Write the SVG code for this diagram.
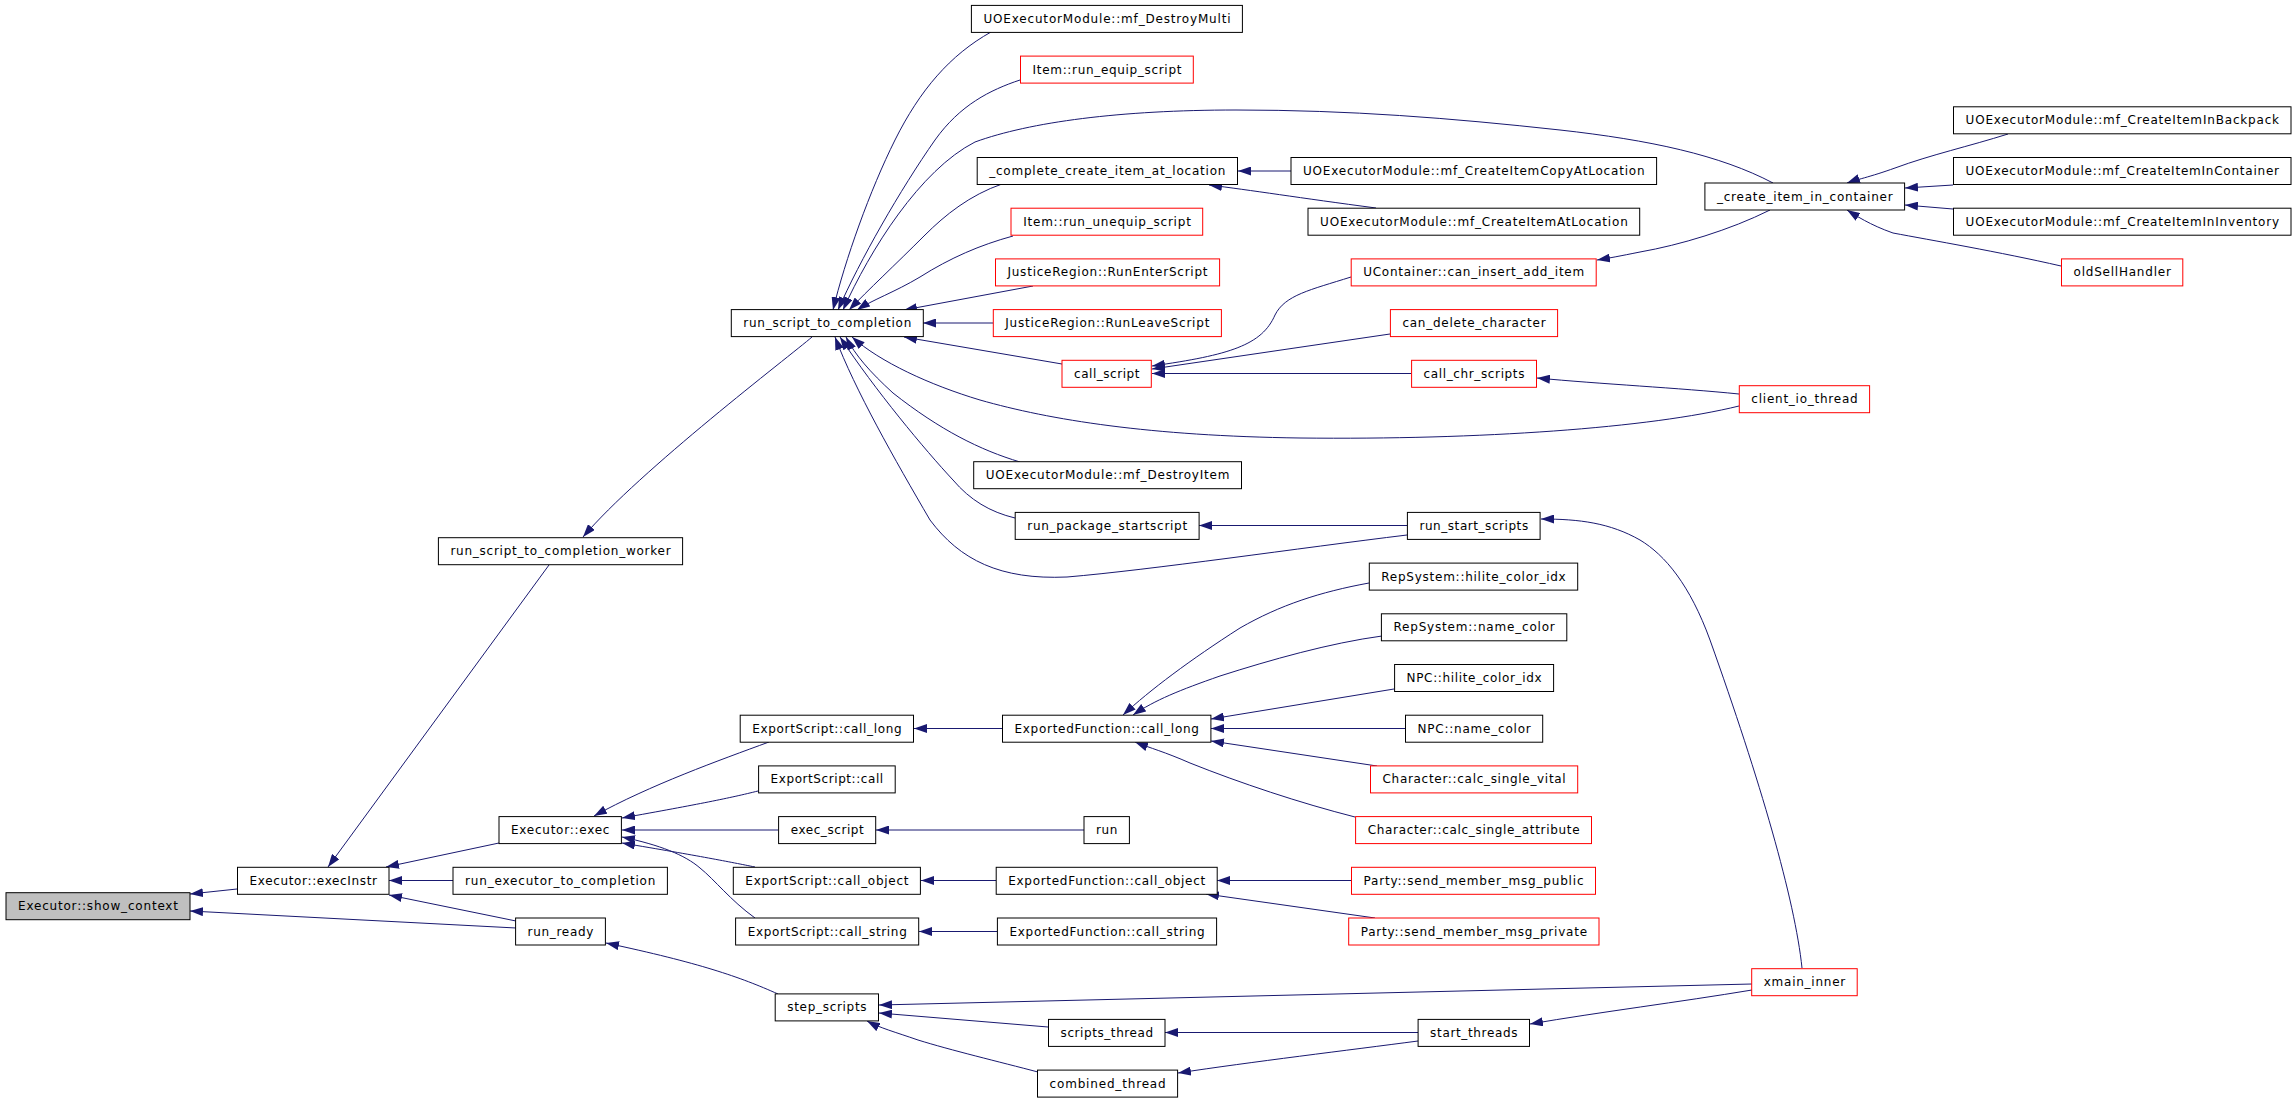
<svg xmlns="http://www.w3.org/2000/svg" width="2296" height="1101" viewBox="0 0 2296 1101">
<style>
.n rect{fill:#fff;stroke:#000;stroke-width:1}
.r rect{stroke:#f00}
.g rect{fill:#bfbfbf}
text{font-family:"DejaVu Sans","Liberation Sans",sans-serif;font-size:12px;text-anchor:middle;fill:#000}
.e path{fill:none;stroke:#191970;stroke-width:1;marker-end:url(#a)}
</style>
<defs>
<marker id="a" viewBox="0 0 13 9" refX="13" refY="4.5" markerWidth="13" markerHeight="9" markerUnits="userSpaceOnUse" orient="auto"><path d="M0,0 L13,4.5 L0,9 z" fill="#191970"/></marker>
</defs>
<rect width="2296" height="1101" fill="#fff"/>
<g id="connectors" class="e">
<path d="M237,889 L190,894"/>
<path d="M516,928 L190,911"/>
<path d="M549,565 L328,867"/>
<path d="M499,843 L386,867"/>
<path d="M453,880.5 L389,880.5"/>
<path d="M516,921 L389,895"/>
<path d="M812,337 C790,356 640,470 583,537"/>
<path d="M769,742 C720,760 650,785 594,816"/>
<path d="M758,791 C730,798 700,804 622,818"/>
<path d="M778,830 L622,830"/>
<path d="M755,867 C730,862 700,856 622,843"/>
<path d="M755,918 C730,900 715,880 700,868 C685,855 660,845 622,837"/>
<path d="M1002,728.5 L914,728.5"/>
<path d="M1084,830 L876,830"/>
<path d="M996,880.5 L921,880.5"/>
<path d="M997,931.5 L919,931.5"/>
<path d="M1369,583 C1320,592 1280,605 1240,628 C1190,660 1150,690 1123,715"/>
<path d="M1382,636 C1330,643 1270,660 1220,676 C1180,690 1155,700 1133,715"/>
<path d="M1394,689 L1211,719"/>
<path d="M1405,728.5 L1211,728.5"/>
<path d="M1377,766 L1211,741"/>
<path d="M1355,817 C1300,803 1240,783 1190,763 C1165,752 1150,748 1135,742"/>
<path d="M1351,880.5 L1217,880.5"/>
<path d="M1375,918 L1206,894"/>
<path d="M778,994 C740,977 700,963 606,943"/>
<path d="M1048,1027 L879,1013"/>
<path d="M1038,1072 C1000,1062 950,1050 918,1040 C895,1032 880,1028 867,1021"/>
<path d="M1752,984 L879,1005"/>
<path d="M1418,1032.5 L1165,1032.5"/>
<path d="M1418,1041 C1350,1050 1250,1062 1178,1073"/>
<path d="M1752,990 C1680,1002 1600,1012 1530,1024"/>
<path d="M1802,968 C1795,900 1760,780 1710,640 C1690,585 1665,555 1640,540 C1610,523 1580,519 1541,519"/>
<path d="M1407,525.5 L1199,525.5"/>
<path d="M1407,535 C1300,548 1150,570 1067,577 C1000,580 960,560 930,520 C895,460 855,390 835,337"/>
<path d="M1015,518 C990,512 970,500 953,480 C925,450 875,390 840,337"/>
<path d="M1020,462 C980,450 940,430 893,393 C870,372 855,355 846,337"/>
<path d="M1739,406 C1650,428 1480,440 1300,438 C1150,436 1050,420 980,400 C930,385 880,362 852,337"/>
<path d="M1062,364 L904,337"/>
<path d="M993,323 L923,323"/>
<path d="M1033,286 L904,310"/>
<path d="M1013,236 C980,245 950,258 920,277 C895,292 872,300 857,310"/>
<path d="M1002,184 C970,195 945,215 925,235 C895,265 868,290 849,310"/>
<path d="M1773,183 C1720,155 1650,140 1560,130 C1450,118 1350,110 1236,110 C1120,110 1030,122 975,142 C920,170 870,250 843,310"/>
<path d="M1020,80 C990,90 960,105 935,140 C900,190 860,260 838,310"/>
<path d="M991,32 C950,55 920,90 895,140 C870,190 845,260 833,310"/>
<path d="M1291,171 L1238,171"/>
<path d="M1376,208 C1300,198 1250,190 1209,185"/>
<path d="M1351,277 C1310,290 1285,295 1275,315 C1262,345 1230,355 1152,366"/>
<path d="M1390,334 L1152,369"/>
<path d="M1411,373.5 L1152,373.5"/>
<path d="M1739,394 C1680,388 1600,384 1537,378"/>
<path d="M1770,210 C1730,230 1680,245 1640,252 C1620,256 1610,258 1597,260"/>
<path d="M2008,134 C1970,146 1930,155 1895,168 C1870,177 1855,180 1847,183"/>
<path d="M1953,185 L1905,188"/>
<path d="M1953,209 L1905,205"/>
<path d="M2061,266 C2000,252 1930,240 1893,233 C1870,225 1855,215 1847,210"/>
</g>
<g id="n_show_context" class="n g"><rect x="6" y="892.7" width="184" height="27"/><text x="98" y="910.2" textLength="160" lengthAdjust="spacing">Executor::show_context</text></g>
<g id="n_execInstr" class="n"><rect x="237.5" y="867.3" width="151.5" height="27"/><text x="313.3" y="884.8" textLength="127.5" lengthAdjust="spacing">Executor::execInstr</text></g>
<g id="n_worker" class="n"><rect x="438.4" y="537.7" width="244.2" height="27"/><text x="560.5" y="555.2" textLength="220.2" lengthAdjust="spacing">run_script_to_completion_worker</text></g>
<g id="n_exec" class="n"><rect x="499" y="816.6" width="122.4" height="27"/><text x="560.2" y="834.1" textLength="98.4" lengthAdjust="spacing">Executor::exec</text></g>
<g id="n_run_executor" class="n"><rect x="453" y="867.3" width="214.4" height="27"/><text x="560.2" y="884.8" textLength="190.4" lengthAdjust="spacing">run_executor_to_completion</text></g>
<g id="n_run_ready" class="n"><rect x="515.6" y="918" width="89.8" height="27"/><text x="560.5" y="935.5" textLength="65.8" lengthAdjust="spacing">run_ready</text></g>
<g id="n_rstc" class="n"><rect x="731.3" y="309.6" width="192" height="27"/><text x="827.3" y="327.1" textLength="168" lengthAdjust="spacing">run_script_to_completion</text></g>
<g id="n_destroymulti" class="n"><rect x="971.4" y="5.4" width="271" height="27"/><text x="1107" y="22.9" textLength="247" lengthAdjust="spacing">UOExecutorModule::mf_DestroyMulti</text></g>
<g id="n_run_equip" class="n r"><rect x="1020.5" y="56.1" width="172.8" height="27"/><text x="1107" y="73.6" textLength="148.8" lengthAdjust="spacing">Item::run_equip_script</text></g>
<g id="n_complete_create" class="n"><rect x="977.2" y="157.5" width="260.3" height="27"/><text x="1107.3" y="175" textLength="236.3" lengthAdjust="spacing">_complete_create_item_at_location</text></g>
<g id="n_run_unequip" class="n r"><rect x="1011" y="208.2" width="191.7" height="27"/><text x="1107" y="225.7" textLength="167.7" lengthAdjust="spacing">Item::run_unequip_script</text></g>
<g id="n_runenter" class="n r"><rect x="995.5" y="258.9" width="224.1" height="27"/><text x="1107.5" y="276.4" textLength="200.1" lengthAdjust="spacing">JusticeRegion::RunEnterScript</text></g>
<g id="n_runleave" class="n r"><rect x="993.3" y="309.6" width="228.1" height="27"/><text x="1107.3" y="327.1" textLength="204.1" lengthAdjust="spacing">JusticeRegion::RunLeaveScript</text></g>
<g id="n_call_script" class="n r"><rect x="1062" y="360.3" width="89.3" height="27"/><text x="1106.7" y="377.8" textLength="65.3" lengthAdjust="spacing">call_script</text></g>
<g id="n_destroyitem" class="n"><rect x="973.7" y="461.7" width="267.8" height="27"/><text x="1107.6" y="479.2" textLength="243.8" lengthAdjust="spacing">UOExecutorModule::mf_DestroyItem</text></g>
<g id="n_run_package" class="n"><rect x="1015.2" y="512.4" width="183.9" height="27"/><text x="1107.2" y="529.9" textLength="159.9" lengthAdjust="spacing">run_package_startscript</text></g>
<g id="n_copyatloc" class="n"><rect x="1291" y="157.5" width="365.6" height="27"/><text x="1473.8" y="175" textLength="341.6" lengthAdjust="spacing">UOExecutorModule::mf_CreateItemCopyAtLocation</text></g>
<g id="n_atloc" class="n"><rect x="1308" y="208.2" width="331.7" height="27"/><text x="1473.9" y="225.7" textLength="307.7" lengthAdjust="spacing">UOExecutorModule::mf_CreateItemAtLocation</text></g>
<g id="n_can_insert" class="n r"><rect x="1351.2" y="258.9" width="245" height="27"/><text x="1473.7" y="276.4" textLength="221" lengthAdjust="spacing">UContainer::can_insert_add_item</text></g>
<g id="n_can_delete" class="n r"><rect x="1390.4" y="309.6" width="167.2" height="27"/><text x="1474" y="327.1" textLength="143.2" lengthAdjust="spacing">can_delete_character</text></g>
<g id="n_call_chr" class="n r"><rect x="1411.6" y="360.3" width="124.9" height="27"/><text x="1474" y="377.8" textLength="100.9" lengthAdjust="spacing">call_chr_scripts</text></g>
<g id="n_client_io" class="n r"><rect x="1739.3" y="385.7" width="130.3" height="27"/><text x="1804.5" y="403.2" textLength="106.3" lengthAdjust="spacing">client_io_thread</text></g>
<g id="n_cic" class="n"><rect x="1704.9" y="183" width="199.7" height="27"/><text x="1804.8" y="200.5" textLength="175.7" lengthAdjust="spacing">_create_item_in_container</text></g>
<g id="n_backpack" class="n"><rect x="1953.5" y="106.8" width="337.5" height="27"/><text x="2122.3" y="124.3" textLength="313.5" lengthAdjust="spacing">UOExecutorModule::mf_CreateItemInBackpack</text></g>
<g id="n_incontainer" class="n"><rect x="1953.5" y="157.5" width="337.5" height="27"/><text x="2122.3" y="175" textLength="313.5" lengthAdjust="spacing">UOExecutorModule::mf_CreateItemInContainer</text></g>
<g id="n_ininventory" class="n"><rect x="1953.5" y="208.2" width="337.5" height="27"/><text x="2122.3" y="225.7" textLength="313.5" lengthAdjust="spacing">UOExecutorModule::mf_CreateItemInInventory</text></g>
<g id="n_oldsell" class="n r"><rect x="2061.5" y="258.9" width="121.3" height="27"/><text x="2122.2" y="276.4" textLength="97.3" lengthAdjust="spacing">oldSellHandler</text></g>
<g id="n_run_start" class="n"><rect x="1407.4" y="512.4" width="132.7" height="27"/><text x="1473.8" y="529.9" textLength="108.7" lengthAdjust="spacing">run_start_scripts</text></g>
<g id="n_rep_hilite" class="n"><rect x="1369.3" y="563.1" width="208.4" height="27"/><text x="1473.5" y="580.6" textLength="184.4" lengthAdjust="spacing">RepSystem::hilite_color_idx</text></g>
<g id="n_rep_name" class="n"><rect x="1381.4" y="613.8" width="185.4" height="27"/><text x="1474.1" y="631.3" textLength="161.4" lengthAdjust="spacing">RepSystem::name_color</text></g>
<g id="n_npc_hilite" class="n"><rect x="1394.6" y="664.5" width="159" height="27"/><text x="1474.1" y="682" textLength="135" lengthAdjust="spacing">NPC::hilite_color_idx</text></g>
<g id="n_npc_name" class="n"><rect x="1405.5" y="715.2" width="137.2" height="27"/><text x="1474.1" y="732.7" textLength="113.2" lengthAdjust="spacing">NPC::name_color</text></g>
<g id="n_vital" class="n r"><rect x="1370.5" y="765.9" width="207.2" height="27"/><text x="1474.1" y="783.4" textLength="183.2" lengthAdjust="spacing">Character::calc_single_vital</text></g>
<g id="n_attr" class="n r"><rect x="1355.6" y="816.6" width="235.9" height="27"/><text x="1473.6" y="834.1" textLength="211.9" lengthAdjust="spacing">Character::calc_single_attribute</text></g>
<g id="n_es_call_long" class="n"><rect x="740.2" y="715.2" width="173.3" height="27"/><text x="826.9" y="732.7" textLength="149.3" lengthAdjust="spacing">ExportScript::call_long</text></g>
<g id="n_ef_call_long" class="n"><rect x="1002.5" y="715.2" width="208.4" height="27"/><text x="1106.7" y="732.7" textLength="184.4" lengthAdjust="spacing">ExportedFunction::call_long</text></g>
<g id="n_es_call" class="n"><rect x="758.6" y="765.9" width="136.6" height="27"/><text x="826.9" y="783.4" textLength="112.6" lengthAdjust="spacing">ExportScript::call</text></g>
<g id="n_exec_script" class="n"><rect x="778.6" y="816.6" width="97.1" height="27"/><text x="827.2" y="834.1" textLength="73.1" lengthAdjust="spacing">exec_script</text></g>
<g id="n_run" class="n"><rect x="1084" y="816.6" width="45.4" height="27"/><text x="1106.7" y="834.1" textLength="21.4" lengthAdjust="spacing">run</text></g>
<g id="n_es_call_object" class="n"><rect x="733.3" y="867.3" width="187.1" height="27"/><text x="826.9" y="884.8" textLength="163.1" lengthAdjust="spacing">ExportScript::call_object</text></g>
<g id="n_ef_call_object" class="n"><rect x="996.2" y="867.3" width="221" height="27"/><text x="1106.7" y="884.8" textLength="197" lengthAdjust="spacing">ExportedFunction::call_object</text></g>
<g id="n_msg_public" class="n r"><rect x="1351.5" y="867.3" width="244" height="27"/><text x="1473.5" y="884.8" textLength="220" lengthAdjust="spacing">Party::send_member_msg_public</text></g>
<g id="n_es_call_string" class="n"><rect x="735.6" y="918" width="183.1" height="27"/><text x="827.2" y="935.5" textLength="159.1" lengthAdjust="spacing">ExportScript::call_string</text></g>
<g id="n_ef_call_string" class="n"><rect x="997.4" y="918" width="219.2" height="27"/><text x="1107" y="935.5" textLength="195.2" lengthAdjust="spacing">ExportedFunction::call_string</text></g>
<g id="n_msg_private" class="n r"><rect x="1348.7" y="918" width="250.3" height="27"/><text x="1473.9" y="935.5" textLength="226.3" lengthAdjust="spacing">Party::send_member_msg_private</text></g>
<g id="n_step_scripts" class="n"><rect x="775.2" y="993.9" width="103.3" height="27"/><text x="826.9" y="1011.4" textLength="79.3" lengthAdjust="spacing">step_scripts</text></g>
<g id="n_scripts_thread" class="n"><rect x="1048.5" y="1019.4" width="116.5" height="27"/><text x="1106.8" y="1036.9" textLength="92.5" lengthAdjust="spacing">scripts_thread</text></g>
<g id="n_start_threads" class="n"><rect x="1418.1" y="1019.4" width="111.4" height="27"/><text x="1473.8" y="1036.9" textLength="87.4" lengthAdjust="spacing">start_threads</text></g>
<g id="n_combined_thread" class="n"><rect x="1037.5" y="1070.1" width="140.1" height="27"/><text x="1107.6" y="1087.6" textLength="116.1" lengthAdjust="spacing">combined_thread</text></g>
<g id="n_xmain_inner" class="n r"><rect x="1751.7" y="968.7" width="105.5" height="27"/><text x="1804.5" y="986.2" textLength="81.5" lengthAdjust="spacing">xmain_inner</text></g>
</svg>
